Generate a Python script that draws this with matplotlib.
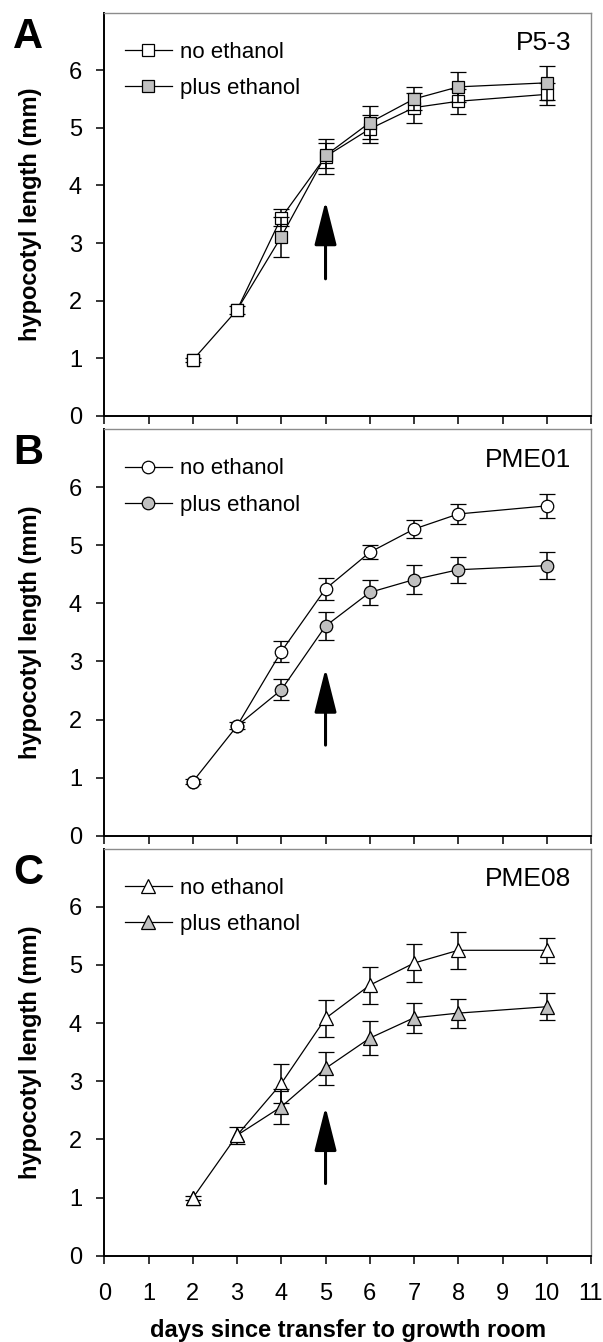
import numpy as np
import matplotlib
matplotlib.use("Agg")
import matplotlib.pyplot as plt
from matplotlib.lines import Line2D

matplotlib.rcParams['font.family'] = ["Liberation Sans", "DejaVu Sans"]

# %% data
days = [2, 3, 4, 5, 6, 7, 8, 10]
daysEtoh = [3, 4, 5, 6, 7, 8, 10]   # treated series branches off at day 3

p53_no = [0.97, 1.84, 3.44, 4.50, 4.98, 5.35, 5.46, 5.58]
p53_no_err = [0.04, 0.07, 0.15, 0.30, 0.25, 0.26, 0.22, 0.19]
p53_plus = [1.84, 3.11, 4.52, 5.09, 5.50, 5.71, 5.78]
p53_plus_err = [0.07, 0.35, 0.22, 0.28, 0.20, 0.26, 0.29]

pme01_no = [0.93, 1.89, 3.17, 4.25, 4.88, 5.28, 5.54, 5.68]
pme01_no_err = [0.04, 0.06, 0.18, 0.19, 0.12, 0.15, 0.17, 0.21]
pme01_plus = [1.89, 2.51, 3.61, 4.19, 4.41, 4.58, 4.65]
pme01_plus_err = [0.06, 0.18, 0.24, 0.22, 0.25, 0.22, 0.23]

pme08_no = [0.99, 2.07, 2.96, 4.08, 4.65, 5.03, 5.25, 5.25]
pme08_no_err = [0.04, 0.15, 0.33, 0.32, 0.32, 0.32, 0.32, 0.22]
pme08_plus = [2.07, 2.56, 3.22, 3.74, 4.09, 4.17, 4.28]
pme08_plus_err = [0.10, 0.30, 0.28, 0.29, 0.26, 0.25, 0.23]

panelLetters = ["A", "B", "C"]
lineNames = ["P5-3", "PME01", "PME08"]
markers = ["s", "o", "^"]
arrowTail = [2.38, 1.56, 1.24]
arrowTip = [3.73, 2.88, 2.56]

# %%
grey = "#c0c0c0"
fs = 17

fig = plt.figure(figsize=(6.03, 13.42), dpi=100)
W, H = 603.0, 1342.0
axLeft, axRight = 104.3, 591.0
axTopBottom = [(12.5, 416.0), (429.2, 835.7), (848.5, 1255.7)]

panels = [
    (p53_no, p53_no_err, p53_plus, p53_plus_err),
    (pme01_no, pme01_no_err, pme01_plus, pme01_plus_err),
    (pme08_no, pme08_no_err, pme08_plus, pme08_plus_err),
]

for i, (noY, noErr, plusY, plusErr) in enumerate(panels):
    top, bottom = axTopBottom[i]
    ax = fig.add_axes([axLeft / W, 1 - bottom / H,
                       (axRight - axLeft) / W, (bottom - top) / H])
    mk = markers[i]
    ms = 10.5 if mk == "^" else 9

    ax.errorbar(days, noY, yerr=noErr, color="black", lw=0.9,
                marker=mk, ms=ms, mfc="white", mec="black", mew=0.9,
                elinewidth=1.1, capsize=6, capthick=1.1, zorder=3)
    # treated line starts at day 3, its markers from day 4
    ax.plot(daysEtoh, plusY, color="black", lw=0.9, zorder=2)
    ax.errorbar(daysEtoh[1:], plusY[1:], yerr=plusErr[1:], color="black",
                lw=0, marker=mk, ms=ms, mfc=grey, mec="black", mew=0.9,
                elinewidth=1.1, capsize=6, capthick=1.1, zorder=4)
    # redraw the shared early points in white on top
    ax.plot(days[:2], noY[:2], ls="none", marker=mk, ms=ms, mfc="white",
            mec="black", mew=0.9, zorder=5)

    ax.annotate("", xy=(5, arrowTip[i]), xytext=(5, arrowTail[i]),
                arrowprops=dict(arrowstyle="-|>,head_length=2.7,head_width=0.68",
                                lw=2.2, color="black", shrinkA=0, shrinkB=0,
                                mutation_scale=10), zorder=6)

    ax.set_xlim(0, 11)
    ax.set_ylim(0, 7)
    ax.set_xticks(range(0, 12))
    ax.set_yticks(range(0, 7))
    ax.tick_params(axis="both", direction="out", length=6, width=1.1,
                   labelsize=fs, colors="black")
    ax.tick_params(axis="y", pad=10)
    ax.tick_params(axis="x", pad=14)
    if i < 2:
        ax.tick_params(axis="x", labelbottom=False)
    else:
        ax.set_xlabel("days since transfer to growth room", fontsize=fs,
                      fontweight="bold", labelpad=10)

    for side in ["left", "bottom"]:
        ax.spines[side].set_linewidth(1.4)
        ax.spines[side].set_color("black")
    for side in ["top", "right"]:
        ax.spines[side].set_linewidth(1.0)
        ax.spines[side].set_color("#8c8c8c")

    ax.set_ylabel("hypocotyl length (mm)", fontsize=fs, fontweight="bold")
    ax.yaxis.set_label_coords(-0.128, 0.5)

    handles = [
        Line2D([], [], color="black", lw=0.9, marker=mk, ms=ms,
               mfc="white", mec="black", mew=0.9),
        Line2D([], [], color="black", lw=0.9, marker=mk, ms=ms,
               mfc=grey, mec="black", mew=0.9),
    ]
    ax.legend(handles, ["no ethanol", "plus ethanol"], loc="upper left",
              bbox_to_anchor=(0.0425, 0.928), frameon=False, fontsize=16,
              borderpad=0, borderaxespad=0, handlelength=2.1,
              handletextpad=0.37, labelspacing=0.68)

    ax.text(0.96, 0.925, lineNames[i], transform=ax.transAxes, ha="right",
            va="center", fontsize=19)
    fig.text(13 / W, 1 - (top + 4) / H, panelLetters[i], ha="left",
             va="top", fontsize=30, fontweight="bold")

fig.savefig("out.png", dpi=100)
